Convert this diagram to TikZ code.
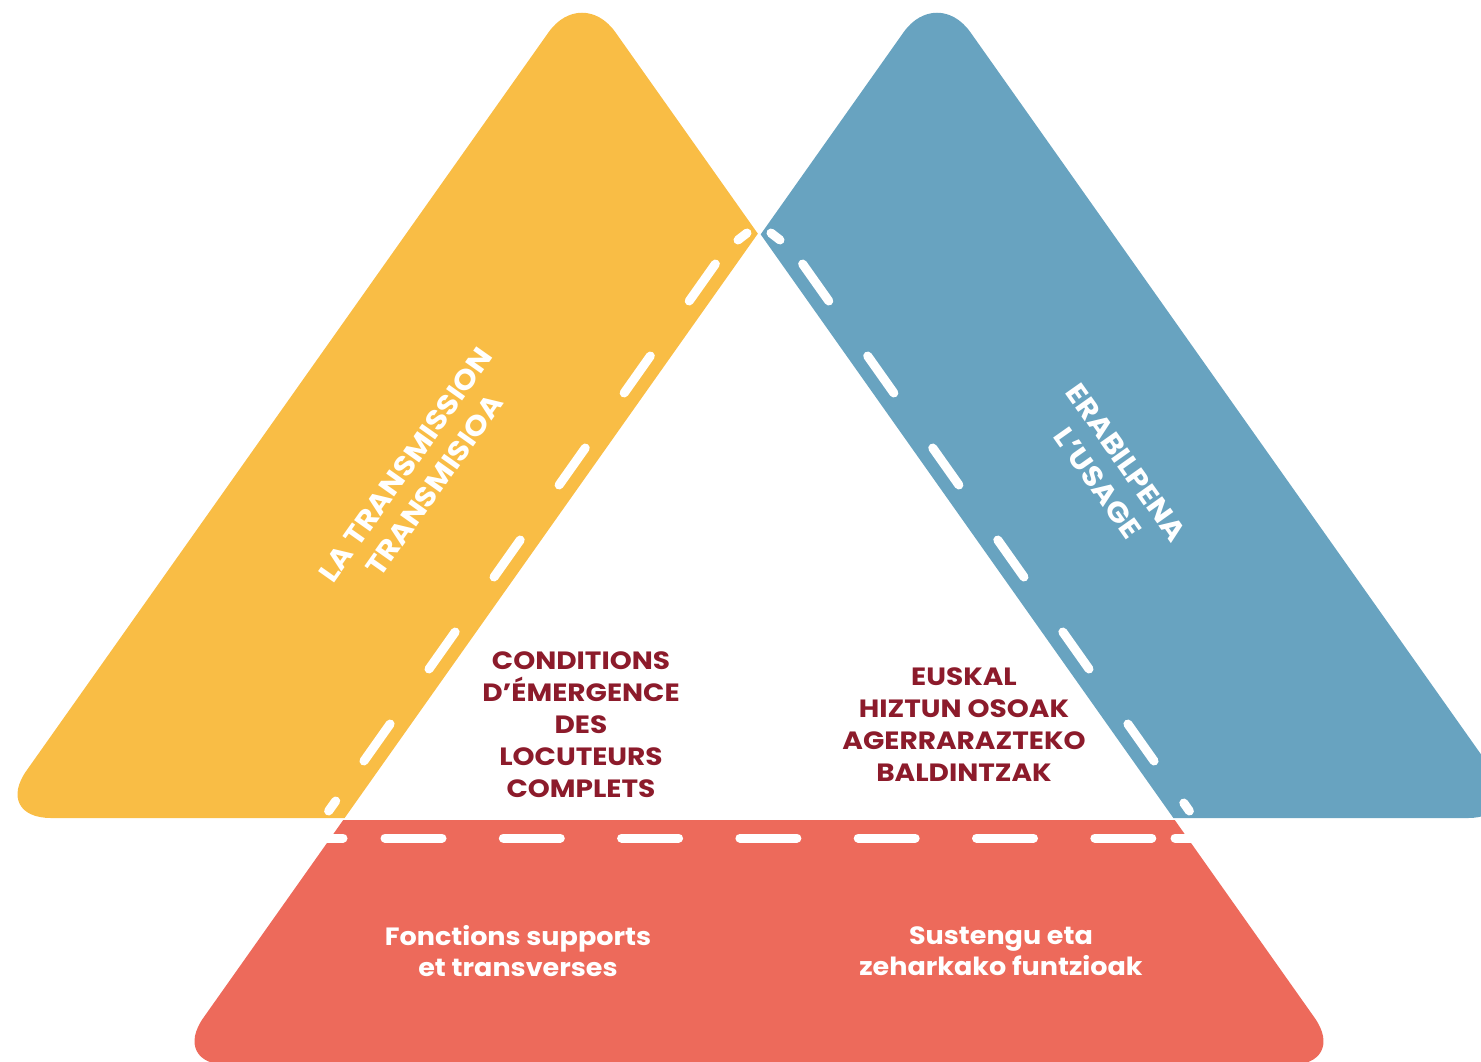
\documentclass[tikz,border=0pt]{standalone}
\usepackage{fontspec}
\newfontfamily\popw{Poppins}[FakeStretch=1.1]
\newfontfamily\popr{Poppins}[FakeStretch=1.12]
\newfontfamily\popb{Poppins}[FakeStretch=1.08]
\usetikzlibrary{calc}
\definecolor{yelc}{HTML}{F9BD45}
\definecolor{bluc}{HTML}{68A3C0}
\definecolor{redc}{HTML}{ED6A5B}
\definecolor{darkr}{HTML}{8C1B2B}
\tikzset{
  dsh/.style={white, line width=9pt, line cap=round},
  shp/.style={rounded corners=58pt},
  txtw/.style={text=white, font=\popw\bfseries\fontsize{28}{35}\selectfont, align=center, inner sep=0pt},
  txtr/.style={text=darkr, font=\popr\bfseries\fontsize{25}{32}\selectfont, align=center, inner sep=0pt},
  txtb/.style={text=white, font=\popb\bfseries\fontsize{25}{31}\selectfont, align=center, inner sep=0pt}
}
\begin{document}
\begin{tikzpicture}[x=1pt,y=-1pt]
\useasboundingbox (0,0) rectangle (1481,1061);
\clip (0,0) rectangle (1481,1061);
% corner points
\coordinate (YA) at (582,-15);
\coordinate (YL) at (-7,818);
\coordinate (YR) at (1171,818);
\coordinate (BA) at (937,-15);
\coordinate (BL) at (348,818);
\coordinate (BR) at (1526,818);
\coordinate (RA) at (759,232);
\coordinate (RL) at (170,1065);
\coordinate (RR) at (1348,1065);
% yellow band
\begin{scope}
  \clip (-100,-100) -- (993.8,-100) -- (145.2,1100) -- (-100,1100) -- cycle;
  \fill[yelc, shp] ($(YL)!0.5!(YR)$) -- (YR) -- (YA) -- (YL) -- cycle;
  \draw[dsh] (738,240) -- (747,233);
  \foreach \i in {0,...,5}{
    \draw[dsh] ({738-0.7071*(32+92*\i)},{264+92*\i}) -- ({738-0.7071*(69+92*\i)},{301+92*\i});
  }
  \draw[dsh] (335.7,801) -- (328.6,811);
\end{scope}
% blue band
\begin{scope}
  \clip (524.2,-100) -- (1700,-100) -- (1700,1100) -- (1372.8,1100) -- cycle;
  \fill[bluc, shp] ($(BL)!0.5!(BR)$) -- (BR) -- (BA) -- (BL) -- cycle;
  \draw[dsh] (771,233) -- (780,240);
  \foreach \i in {0,...,5}{
    \draw[dsh] ({780+0.7071*(32+92*\i)},{264+92*\i}) -- ({780+0.7071*(69+92*\i)},{301+92*\i});
  }
  \draw[dsh] (1183.8,803) -- (1189.4,811);
\end{scope}
% red trapezoid
\begin{scope}
  \clip (0,820.5) rectangle (1481,1100);
  \fill[redc, shp] ($(RL)!0.5!(RR)$) -- (RR) -- (RA) -- (RL) -- cycle;
  \draw[dsh] (318,838) -- (343,838);
  \foreach \i in {0,...,6}{
    \draw[dsh] ({385+118.3*\i},838) -- ({442+118.3*\i},838);
  }
  \draw[dsh] (1175,838) -- (1200,838);
\end{scope}
% texts
\node[txtw, rotate=54.74] (yt) at (420,475) {LA TRANSMISSION\\TRANSMISIOA};
\node[txtw, rotate=-54.74] (bt) at (1112,473) {ERABILPENA\\L’USAGE};
\node[txtr] (cf) at (581,725) {CONDITIONS\\D’ÉMERGENCE\\DES\\LOCUTEURS\\COMPLETS};
\node[txtr] (ce) at (964,725) {EUSKAL\\HIZTUN OSOAK\\AGERRARAZTEKO\\BALDINTZAK};
\node[txtb] (rf) at (518,951.5) {Fonctions supports\\et transverses};
\node[txtb] (re) at (1001,951.5) {Sustengu eta\\zeharkako funtzioak};
\end{tikzpicture}
\end{document}
